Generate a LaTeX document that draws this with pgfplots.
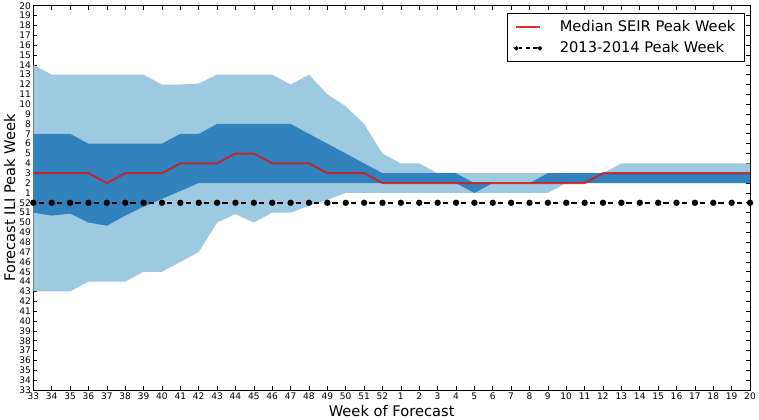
\documentclass[border=0pt]{standalone}
\usepackage{fontspec}
\setmainfont{DejaVu Sans}
\usepackage{pgfplots}
\usepackage{pgfplotstable}
\pgfplotsset{compat=1.18}
\usepgfplotslibrary{fillbetween}
\definecolor{lightb}{HTML}{9ECAE1}
\definecolor{darkb}{HTML}{3182BD}
\definecolor{medred}{HTML}{D7191C}
\pgfplotstableread{
i lo dlo med dhi hi obs
0 10 18 22 26 33 19
1 10 17.7 22 26 32 19
2 10 17.9 22 26 32 19
3 11 17 22 25 32 19
4 11 16.67 21 25 32 19
5 11 17.7 22 25 32 19
6 12 18.6 22 25 32 19
7 12 19.4 22 25 31 19
8 13 20.2 23 26 31 19
9 14 21 23 26 31.1 19
10 17 21 23 27 32 19
11 17.85 21 24 27 32 19
12 17 21 24 27 32 19
13 18 21 23 27 32 19
14 18 21 23 27 31 19
15 18.7 21 23 26 32 19
16 19.3 21 22 25 30 19
17 20 21 22 24 28.8 19
18 20 21 22 23 27 19
19 20 21 21 22 24 19
20 20 21 21 22 23 19
21 20 21 21 22 23 19
22 20 21 21 22 22 19
23 20 21 21 22 22 19
24 20 20 21 21 22 19
25 20 21 21 21 22 19
26 20 21 21 21 22 19
27 20 21 21 21 22 19
28 20 21 21 22 22 19
29 21 21 21 22 22 19
30 21 21 21 22 22 19
31 21 21 22 22 22 19
32 21 21 22 22 23 19
33 21 21 22 22 23 19
34 21 21 22 22 23 19
35 21 21 22 22 23 19
36 21 21 22 22 23 19
37 21 21 22 22 23 19
38 21 21 22 22 23 19
39 21 21 22 22 23 19
}\data
\begin{document}
\begin{tikzpicture}
\begin{axis}[
  name=ax,
  scale only axis,
  width=537.5pt, height=288.2pt,
  xmin=0, xmax=39, ymin=0, ymax=39,
  xtick={0,...,39}, ytick={0,...,39},
  xticklabels={33,34,35,36,37,38,39,40,41,42,43,44,45,46,47,48,49,50,51,52,1,2,3,4,5,6,7,8,9,10,11,12,13,14,15,16,17,18,19,20},
  yticklabels={33,34,35,36,37,38,39,40,41,42,43,44,45,46,47,48,49,50,51,52,1,2,3,4,5,6,7,8,9,10,11,12,13,14,15,16,17,18,19,20},
  tick label style={font=\fontsize{6.8}{7}\selectfont},
  /pgf/number format/assume math mode=true,
  xticklabel style={inner sep=1.8pt},
  yticklabel style={inner sep=1.6pt},
  tick align=inside,
  major tick length=3pt,
  axis line style={line width=0.7pt},
  every tick/.style={line width=0.5pt, black},
  xlabel={Week of Forecast},
  ylabel={Forecast ILI Peak Week},
  label style={font=\fontsize{11}{13}\selectfont},
  xlabel style={at={(axis description cs:0.5,-0.055)}, anchor=center},
  ylabel style={at={(axis description cs:-0.033,0.5)}, anchor=center},
  legend style={at={(0.993,0.981)}, anchor=north east, font=\fontsize{11}{13}\selectfont,
    draw=black, line width=0.6pt, inner xsep=5pt, inner ysep=3.5pt, row sep=1.5pt},
  legend cell align=left,
]
\addplot[name path=hi, draw=none, forget plot] table[x=i, y=hi] {\data};
\addplot[name path=lo, draw=none, forget plot] table[x=i, y=lo] {\data};
\addplot[name path=dhi, draw=none, forget plot] table[x=i, y=dhi] {\data};
\addplot[name path=dlo, draw=none, forget plot] table[x=i, y=dlo] {\data};
\addplot[fill=lightb, draw=none, forget plot] fill between[of=hi and lo];
\addplot[fill=darkb, draw=none, forget plot] fill between[of=dhi and dlo];
\addplot[medred, opacity=0.85, line width=1.5pt,
  legend image code/.code={\draw[draw=medred, solid, opacity=0.9, line width=1.3pt] (0cm,0cm) -- (0.62cm,0cm);
    \path (0cm,0cm) (1.05cm,0cm);}]
  table[x=i, y=med] {\data};
\addlegendentry{Median SEIR Peak Week}
\addplot[black, line width=1.1pt, dash pattern=on 4pt off 9.78pt, dash phase=9.89pt,
  mark=*, mark size=1.8pt, mark options={solid},
  legend image code/.code={\draw[draw=black, line width=1.1pt, dash pattern=on 2.8pt off 2.6pt, dash phase=-1.8pt] (0cm,0cm) -- (0.62cm,0cm);
    \fill[black] (0cm,0cm) circle (1.4pt); \fill[black] (0.62cm,0cm) circle (1.4pt);
    \path (0cm,0cm) (1.05cm,0cm);}]
  table[x=i, y=obs] {\data};
\addlegendentry{2013-2014 Peak Week}
\end{axis}
\pgfresetboundingbox
\path[use as bounding box] ([xshift=-25pt,yshift=-22.5pt]ax.south west) rectangle ([xshift=6.75pt,yshift=4.3pt]ax.north east);
\end{tikzpicture}
\end{document}
